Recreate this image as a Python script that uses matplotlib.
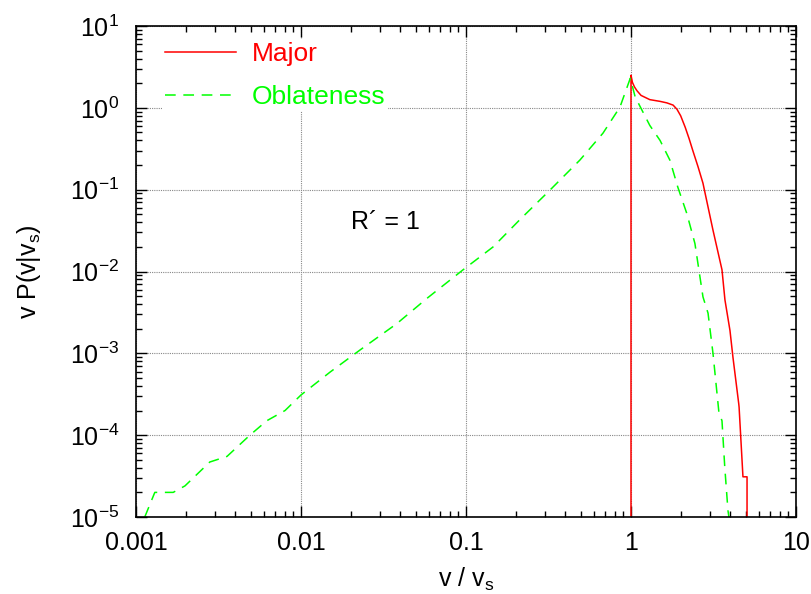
import matplotlib
matplotlib.use("Agg")
from matplotlib import pyplot as plt
from matplotlib.ticker import LogLocator, NullFormatter

plt.rcParams['font.family'] = ['Liberation Sans', 'DejaVu Sans']
plt.rcParams['mathtext.fontset'] = 'custom'
plt.rcParams['mathtext.rm'] = 'Liberation Sans'
plt.rcParams['mathtext.it'] = 'Liberation Sans:italic'

# Major axis: vertical rise at v = vs, shoulder, steep cut-off near 5 vs
major_x = [1.0, 1.0, 1.02, 1.05, 1.087, 1.15, 1.30, 1.50, 1.65, 1.80, 1.90,
           2.0, 2.13, 2.25, 2.37, 2.55, 2.73, 3.14, 3.56, 3.71, 3.98, 4.15,
           4.50, 4.52, 4.77, 4.88, 5.05, 5.05]
major_y = [1e-7, 2.5, 2.05, 1.8, 1.62, 1.42, 1.26, 1.20, 1.15, 1.08, 0.96,
           0.80, 0.58, 0.42, 0.30, 0.19, 0.12, 0.032, 0.0105, 0.0045, 0.0019,
           8.9e-4, 2.4e-4, 2.2e-4, 3.1e-5, 3.1e-5, 3.1e-5, 1e-7]

# Oblateness: power-law-ish rise up to v = vs, then fall
obl_x = [0.00113, 0.0013, 0.00168, 0.00198, 0.0028, 0.00356, 0.0049, 0.0062,
         0.008, 0.01, 0.015, 0.0228, 0.038, 0.058, 0.096, 0.146, 0.212, 0.323,
         0.49, 0.676, 0.857, 0.99, 1.06, 1.30, 1.50, 1.72, 1.92, 2.18, 2.44,
         2.73, 2.93, 3.14, 3.41, 3.56, 3.70, 3.87, 3.92]
obl_y = [1e-5, 2.0e-5, 2.0e-5, 2.4e-5, 4.7e-5, 5.5e-5, 1.0e-4, 1.5e-4,
         2.0e-4, 3.1e-4, 5.9e-4, 1.1e-3, 2.3e-3, 4.7e-3, 0.0105, 0.020, 0.043,
         0.099, 0.23, 0.49, 1.02, 2.3, 1.36, 0.61, 0.40, 0.23, 0.108, 0.051,
         0.022, 0.0049, 0.0031, 0.001, 1.9e-4, 1.5e-4, 4.1e-5, 1.2e-5, 1e-5]

fig = plt.figure(figsize=(8.11, 5.94), dpi=100)
ax = fig.add_axes([0.1677, 0.1296, 0.8138, 0.8266])

ax.plot(major_x, major_y, color='#ff0000', lw=1.1, label='Major')
ax.plot(obl_x, obl_y, color='#00ff00', lw=1.1, dashes=(7, 5), label='Oblateness')

ax.set_xscale('log')
ax.set_yscale('log')
ax.set_xlim(0.001, 10)
ax.set_ylim(1e-5, 10)

ax.set_xticks([0.001, 0.01, 0.1, 1, 10])
ax.set_xticklabels(['0.001', '0.01', '0.1', '1', '10'])
ax.xaxis.set_minor_locator(LogLocator(base=10, subs=range(2, 10)))
ax.xaxis.set_minor_formatter(NullFormatter())
ax.yaxis.set_major_locator(LogLocator(base=10, numticks=10))
ax.yaxis.set_minor_locator(LogLocator(base=10, subs=range(2, 10), numticks=20))
ax.yaxis.set_minor_formatter(NullFormatter())

ax.tick_params(which='both', direction='in', top=True, right=True, labelsize=18)
ax.tick_params(which='major', length=8, width=1)
ax.tick_params(which='minor', length=4, width=1)
ax.tick_params(axis='x', pad=10)
ax.tick_params(axis='y', pad=12)
for s in ax.spines.values():
    s.set_linewidth(1.2)

ax.grid(True, which='major', linestyle=(0, (1, 1)), color='#888888', lw=0.8)

ax.text(0.0327, 0.04, 'R\u00b4 = 1', fontsize=18, ha='center', va='center')

ax.set_xlabel('v / v$_\\mathregular{s}$', fontsize=18, labelpad=8)
ax.set_ylabel('v P(v|v$_\\mathregular{s}$)', fontsize=18, labelpad=19)

leg = ax.legend(loc='upper left', bbox_to_anchor=(0.02, 1.0), fontsize=19,
                frameon=True, framealpha=1, edgecolor='none', fancybox=False,
                handlelength=2.7, handletextpad=0.6, labelspacing=0.72,
                borderpad=0.1)
for t, c in zip(leg.get_texts(), ['#ff0000', '#00ff00']):
    t.set_color(c)

fig.savefig('out.png', dpi=100)
